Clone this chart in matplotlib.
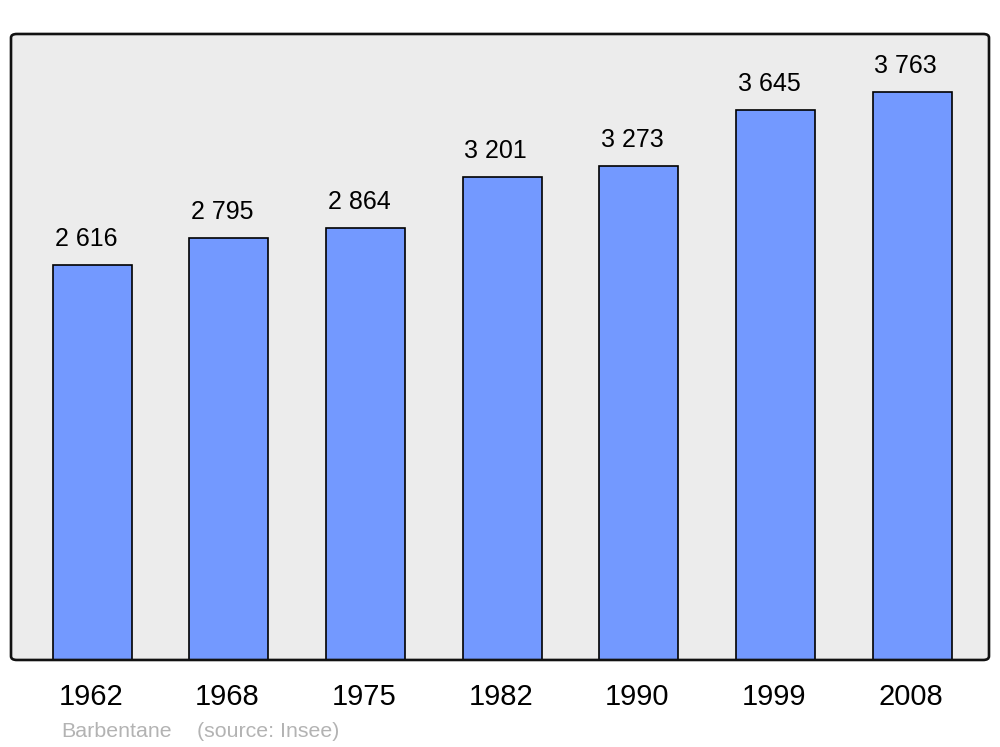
import matplotlib.pyplot as plt
from matplotlib.patches import FancyBboxPatch

plt.rcParams['font.family'] = ['Liberation Sans', 'DejaVu Sans']

# Données
annees = ["1962", "1968", "1975", "1982", "1990", "1999", "2008"]
population = [2616, 2795, 2864, 3201, 3273, 3645, 3763]
etiquettes = ["2 616", "2 795", "2 864", "3 201", "3 273", "3 645", "3 763"]
commune = "Barbentane"
source = "(source: Insee)"

fig = plt.figure(figsize=(10, 7.47), dpi=100)
ax = fig.add_axes([0.011, 0.1165, 0.978, 0.838])
ax.set_facecolor("#ececec")

x = range(len(annees))
ax.bar(x, population, width=0.578, color="#7399ff", edgecolor="black", linewidth=1.2, zorder=2)

ax.set_xlim(-0.593, 6.563)
ax.set_ylim(0, 4146)
ax.set_xticks([])
ax.set_yticks([])
for s in ax.spines.values():
    s.set_visible(False)

# Cadre arrondi
cadre = FancyBboxPatch((0, 0), 1, 1, boxstyle="round,pad=0,rounding_size=0.006",
                       transform=ax.transAxes, facecolor="none", edgecolor="#111111",
                       linewidth=1.9, zorder=5, clip_on=False)
ax.add_patch(cadre)

# Valeurs au-dessus des barres
for i, (v, lab) in enumerate(zip(population, etiquettes)):
    ax.annotate(lab, xy=(i, v), xytext=(-4.5, 13.5), textcoords="offset points",
                ha="center", va="baseline", fontsize=18, color="black")

# Années sous l'axe
for i, a in enumerate(annees):
    ax.annotate(a, xy=(i, 0), xycoords=("data", "axes fraction"), xytext=(-1, -32.4),
                textcoords="offset points", ha="center", va="baseline", fontsize=21)

fig.text(0.061, 10 / 747, commune, ha="left", va="baseline", fontsize=15.4, color="#b3b3b3")
fig.text(0.197, 10 / 747, source, ha="left", va="baseline", fontsize=15.4, color="#b3b3b3")

fig.savefig("out.png", dpi=100)
